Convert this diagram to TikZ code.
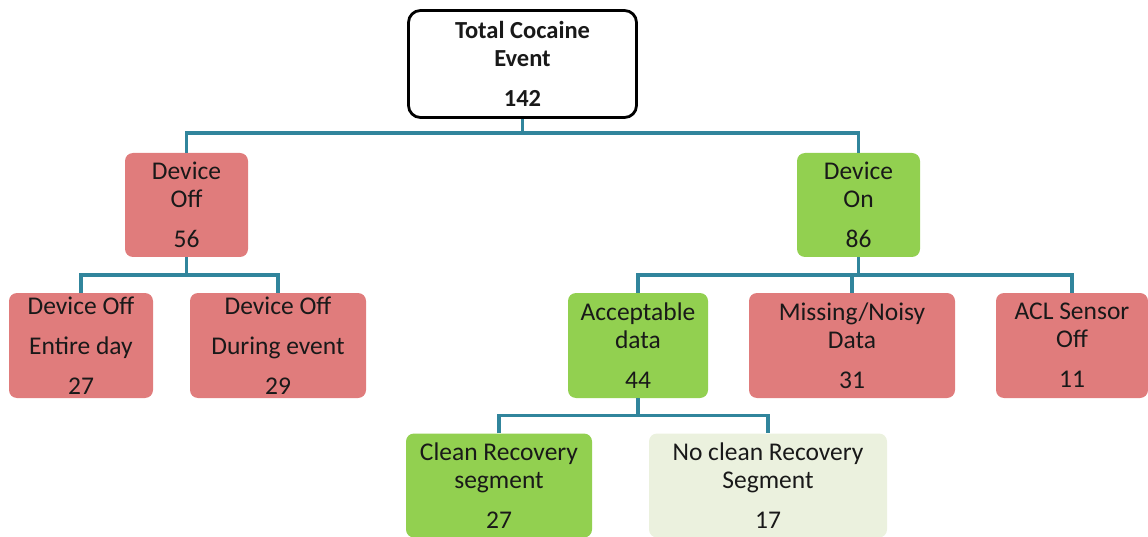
\documentclass[tikz,border=0pt]{standalone}
\usepackage{fontspec}
\setmainfont{Carlito}
\definecolor{boxred}{RGB}{224,124,124}
\definecolor{boxgreen}{RGB}{146,208,80}
\definecolor{boxpale}{RGB}{235,241,222}
\definecolor{linkteal}{RGB}{49,133,156}
\tikzset{
  base/.style={rectangle, rounded corners=8pt, inner sep=0pt, align=center,
    font=\fontsize{25.5}{28}\selectfont, text=black!90},
  redbox/.style={base, fill=boxred},
  greenbox/.style={base, fill=boxgreen},
  palebox/.style={base, fill=boxpale},
  rootbox/.style={base, draw=black, line width=2.8pt, fill=white, rounded corners=12pt,
    font=\fontsize{24.5}{28}\selectfont\bfseries},
  conn/.style={draw=linkteal, line width=3.6pt}
}
\begin{document}
\begin{tikzpicture}[x=1pt,y=-1pt]
\useasboundingbox (0,0) rectangle (1148,537);
\node[rootbox, minimum width=228pt, minimum height=107pt] (root) at (522.5,64) {Total Cocaine\\Event\\[12pt]142};
\node[redbox, minimum width=123pt, minimum height=104pt] (doff) at (186.5,205) {Device\\Off\\[12pt]56};
\node[greenbox, minimum width=123pt, minimum height=104pt] (don) at (858.5,205) {Device\\On\\[12pt]86};
\node[redbox, minimum width=144pt, minimum height=105pt] (dday) at (81,345.5) {Device Off\\[12pt]Entire day\\[12pt]27};
\node[redbox, minimum width=176pt, minimum height=105pt] (devt) at (278,345.5) {Device Off\\[12pt]During event\\[12pt]29};
\node[greenbox, minimum width=140pt, minimum height=105pt] (acc) at (638,345.5) {Acceptable\\data\\[12pt]44};
\node[redbox, minimum width=206pt, minimum height=105pt] (miss) at (852,345.5) {Missing/Noisy\\Data\\[12pt]31};
\node[redbox, minimum width=152pt, minimum height=105pt] (acl) at (1072,345.5) {ACL Sensor\\Off\\[12pt]11};
\node[greenbox, minimum width=186pt, minimum height=104pt] (clean) at (499,485.5) {Clean Recovery\\segment\\[12pt]27};
\node[palebox, minimum width=238pt, minimum height=104pt] (noclean) at (768,485.5) {No clean Recovery\\Segment\\[12pt]17};
% connectors
\draw[conn] (root.south) -- ++(0,15);
\draw[conn] (doff.north) -- ++(0,-20) -| (don.north);
\draw[conn] (doff.south) -- ++(0,18);
\draw[conn] (dday.north) -- ++(0,-18) -| (devt.north);
\draw[conn] (don.south) -- ++(0,18);
\draw[conn] (acc.north) -- ++(0,-18) -| (acl.north);
\draw[conn] (miss.north) -- ++(0,-18);
\draw[conn] (acc.south) -- ++(0,18);
\draw[conn] (clean.north) -- ++(0,-18) -| (noclean.north);
\end{tikzpicture}
\end{document}
